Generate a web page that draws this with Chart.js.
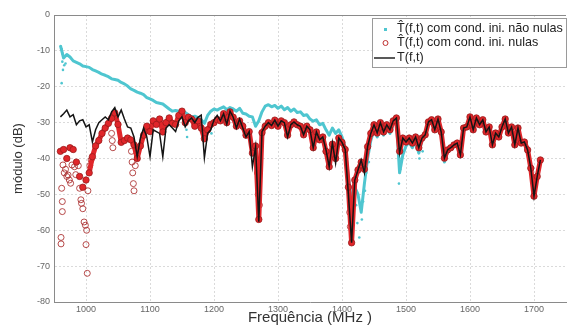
<!DOCTYPE html>
<html>
<head>
<meta charset="utf-8">
<script src="https://cdn.jsdelivr.net/npm/chart.js@4.4.1/dist/chart.umd.min.js"></script>
<style>
  html, body { margin: 0; padding: 0; background: #fff; }
</style>
</head>
<body>
<canvas id="chart" width="571" height="327"></canvas>
<script>
// frequency grid (MHz)
const freq = [
  960, 965, 970, 975, 980, 985, 990, 995, 1000, 1005,
  1010, 1015, 1020, 1025, 1030, 1035, 1040, 1045, 1050, 1055,
  1060, 1065, 1070, 1075, 1080, 1085, 1090, 1095, 1100, 1105,
  1110, 1115, 1120, 1125, 1130, 1135, 1140, 1145, 1150, 1155,
  1160, 1165, 1170, 1175, 1180, 1185, 1190, 1195, 1200, 1205,
  1210, 1215, 1220, 1225, 1230, 1235, 1240, 1245, 1250, 1255,
  1260, 1265, 1270, 1275, 1280, 1285, 1290, 1295, 1300, 1305,
  1310, 1315, 1320, 1325, 1330, 1335, 1340, 1345, 1350, 1355,
  1360, 1365, 1370, 1375, 1380, 1385, 1390, 1395, 1400, 1405,
  1410, 1415, 1420, 1425, 1430, 1435, 1440, 1445, 1450, 1455,
  1460, 1465, 1470, 1475, 1480, 1485, 1490, 1495, 1500, 1505,
  1510, 1515, 1520, 1525, 1530, 1535, 1540, 1545, 1550, 1555,
  1560, 1565, 1570, 1575, 1580, 1585, 1590, 1595, 1600, 1605,
  1610, 1615, 1620, 1625, 1630, 1635, 1640, 1645, 1650, 1655,
  1660, 1665, 1670, 1675, 1680, 1685, 1690, 1695, 1700, 1705,
  1710
];

// T(f,t) - black line
const tRef = [
  -28.4, -27.5, -26.5, -28.4, -27.8, -30.6, -29.5, -29.2, -31.2, -30.6,
  -35.4, -32, -30, -29.2, -28.4, -29.2, -27, -25.8, -28.4, -26.5,
  -29, -31.2, -31.5, -34, -39.5, -34.3, -31.5, -34, -39.5, -32,
  -32.5, -33, -39.5, -31.5, -30.6, -31.5, -32.5, -29.5, -28.4, -31.2,
  -29.5, -28.7, -30, -28.5, -27.9, -39.8, -33, -32, -29.2, -28,
  -29.5, -27.5, -30.5, -26.8, -28.5, -31.5, -29, -31.5, -34, -32.5,
  -42.3, -36.7, -57.6, -32.5, -31, -30, -30.8, -29.3, -31, -29.5,
  -30, -34, -30.6, -29.8, -30.6, -31, -33.4, -31, -32, -37,
  -32.6, -34.8, -34, -37.6, -42.3, -35.6, -41.3, -34.3, -35.5, -37.5,
  -50, -63.5, -46, -43.2, -40.4, -44, -36.7, -33, -30.6, -32.9,
  -30, -32.6, -30.6, -32, -29.5, -28.7, -38.5, -34.3, -35.4, -34.3,
  -35.7, -34, -37, -34.3, -33.4, -29.8, -29.2, -32, -29, -32.6,
  -39.9, -37.6, -37, -36.2, -35.7, -39, -31.5, -31.2, -28.4, -32,
  -28.7, -30.6, -29.2, -32.6, -31.2, -36.2, -32.9, -34, -31.2, -29,
  -32.9, -31.2, -36.2, -31.5, -35.7, -35.4, -37.6, -42.7, -50.5, -45,
  -40.4
];

// T^(f,t) com cond. ini. nulas - red circles
const tNulas = [
  -38, -37.5, -40, -37, -37.5, -41, -45, -48, -46, -44,
  -39.5, -36.5, -35, -33, -31.5, -30.2, -28.8, -27.3, -30.5, -35.5,
  -35, -34.3, -34.8, -36.2, -40, -36.5, -33.5, -31, -32.5, -29.5,
  -30.5, -29, -32.6, -30, -28.7, -30.2, -30.5, -28, -26.8, -30,
  -28.5, -29, -31, -29.5, -31.5, -34.5, -32, -30.5, -30, -29.2,
  -29.5, -27.5, -30, -27, -28.5, -31, -29.5, -31, -33.5, -32.5,
  -38.5, -36.5, -57, -32.8, -31, -30, -30.8, -29.3, -31, -29.5,
  -30, -33.5, -30.6, -29.8, -30.6, -31, -33.4, -31, -32, -37,
  -32.6, -34.8, -34, -38, -42.3, -36, -40, -34.3, -35.5, -37.5,
  -48, -63.5, -46, -43.2, -41, -43, -36.7, -33, -30.6, -32.9,
  -30, -32.6, -30.6, -32, -29.5, -28.7, -38, -34.3, -35.4, -34.3,
  -35.7, -34, -37, -34.3, -33.4, -29.8, -29.2, -32, -29, -32.6,
  -39.9, -37.6, -37, -36.2, -35.7, -39, -31.5, -31.2, -28.4, -32,
  -28.7, -30.6, -29.2, -32.6, -31.2, -36.2, -32.9, -34, -31.2, -29,
  -32.9, -31.2, -36.2, -31.5, -35.7, -35.4, -37.6, -42.7, -50.5, -45,
  -40.4
];
// scattered red circles (vertical runs)
const nulasExtraF = [962, 963, 963, 961, 961, 964, 966, 968, 970, 972, 974, 976, 978, 982, 984, 988, 990, 992, 993, 995,
  997, 999, 1000, 1001, 1002, 1003, 1006, 1008, 1040, 1041, 1042, 1071, 1072, 1073, 1074, 1075, 1077, 1268, 1269, 1271, 1412, 1413];
const nulasExtraV = [-48.3, -52, -54.8, -62, -63.8, -41.8, -44, -43, -45, -44.6, -46, -46.9, -41.8, -42.3, -44.5, -42, -48.3, -51.5, -52.5, -54,
  -57.7, -58.6, -64, -60, -72, -49, -42, -40.4, -33, -35, -37, -38, -41, -44, -47, -49, -42, -44, -50, -53, -55, -59];

// T^(f,t) com cond. ini. nao nulas - cyan dots
const tNaoNulas = [
  -8.5, -12, -11, -11.7, -12.8, -13.2, -13.6, -14.2, -14.4, -14.6,
  -15.2, -15.6, -16, -16.5, -16.8, -17.2, -17.8, -18, -18.2, -18.8,
  -19.2, -19.8, -20.6, -21, -21.5, -21.8, -22.2, -23, -23.4, -23.8,
  -24.4, -24.6, -24.8, -25.5, -26.2, -26.8, -26.6, -26.8, -26.6, -27.2,
  -27.8, -28.4, -28.2, -28.6, -29.2, -30.2, -28, -26.8, -26.2, -26.5,
  -26, -25.6, -26.4, -25.8, -26.2, -26.8, -26, -27.4, -27.6, -28.2,
  -28.4, -31, -29.5, -27, -25.4, -25, -25.6, -25.2, -26, -25.4,
  -26.4, -25.8, -26.8, -26.2, -27.2, -27, -28, -27.8, -29, -29.6,
  -29.2, -30.6, -30.2, -32, -33.5, -31.5, -33, -32, -34, -37,
  -45, -52, -48, -50, -55, -47, -40, -35, -32, -34,
  -31, -33.5, -31.5, -33, -30.5, -29.5, -44, -39, -36.5, -35.5,
  -37, -35, -38.5, -35, -34, -30.5, -29.8, -32.5, -29.5, -33.5,
  -41, -38, -37.5, -36.5, -36, -39.5, -32, -31.5, -28.8, -32.2,
  -29, -30.8, -29.5, -32.8, -31.5, -36.4, -33, -34.2, -31.4, -29.2,
  -33, -31.4, -36.4, -31.7, -35.8, -35.6, -37.8, -43, -50.5, -45,
  -40.5
];
const naoNulasExtraF = [962, 963, 963, 964, 962, 966, 968, 1157, 1158, 1196, 1422, 1424, 1427, 1431, 1433, 1436, 1438, 1442, 1489, 1491, 1493, 1521, 1526];
const naoNulasExtraV = [-9.5, -10.7, -13, -15.3, -19, -14, -13.5, -32, -34, -33, -53, -58, -62, -57, -52, -49, -44, -41, -47, -43, -40, -40, -38];

const xTicks = [1000, 1100, 1200, 1300, 1400, 1500, 1600, 1700];
const yTicks = [0, -10, -20, -30, -40, -50, -60, -70, -80];

const labels = [
  'T\u0302(f,t) com cond. ini. não nulas',
  'T\u0302(f,t) com cond. ini. nulas',
  'T(f,t)'
];

function pts(xs, ys) {
  return xs.map((f, i) => ({ x: f, y: ys[i] }));
}

const CYAN = '#4fc6d0';
const RED = '#e0262a';
const FONT = '"Liberation Sans", Arial, sans-serif';

// top edge of the axes box + legend box in the upper right
const boxPlugin = {
  id: 'boxPlugin',
  afterDraw(chart) {
    const { ctx, chartArea: a } = chart;
    ctx.save();
    ctx.strokeStyle = '#8a8a8a';
    ctx.lineWidth = 1;
    ctx.beginPath();
    ctx.moveTo(a.left, a.top + 0.5);
    ctx.lineTo(a.right, a.top + 0.5);
    ctx.stroke();

    const bx = 372.5, by = 18.5, bw = 194, bh = 49;
    ctx.fillStyle = '#fff';
    ctx.fillRect(bx, by, bw, bh);
    ctx.strokeStyle = '#9a9a9a';
    ctx.strokeRect(bx, by, bw, bh);

    ctx.font = '12.6px ' + FONT;
    ctx.textBaseline = 'middle';
    const rows = [29, 43, 58];
    ctx.fillStyle = CYAN;
    ctx.fillRect(384, rows[0] - 1, 3, 3);
    ctx.strokeStyle = '#c03030';
    ctx.beginPath();
    ctx.arc(385.5, rows[1], 2.5, 0, Math.PI * 2);
    ctx.stroke();
    ctx.strokeStyle = '#222';
    ctx.lineWidth = 1.5;
    ctx.beginPath();
    ctx.moveTo(374, rows[2]);
    ctx.lineTo(395, rows[2]);
    ctx.stroke();

    ctx.fillStyle = '#222';
    labels.forEach((t, i) => ctx.fillText(t, 397, rows[i]));
    ctx.restore();
  }
};

new Chart(document.getElementById('chart'), {
  type: 'scatter',
  data: {
    datasets: [
      {
        label: labels[0],
        data: pts(freq, tNaoNulas),
        showLine: true,
        borderColor: CYAN,
        borderWidth: 3,
        borderJoinStyle: 'round',
        pointRadius: 0.8,
        pointBackgroundColor: CYAN,
        pointBorderWidth: 0,
        order: 4
      },
      {
        label: labels[0] + ' extra',
        data: pts(naoNulasExtraF, naoNulasExtraV),
        pointRadius: 1.3,
        pointBackgroundColor: CYAN,
        pointBorderWidth: 0,
        order: 3
      },
      {
        label: labels[1],
        data: pts(freq, tNulas),
        showLine: true,
        borderColor: RED,
        borderWidth: 5,
        borderJoinStyle: 'round',
        borderCapStyle: 'round',
        segment: {
          // the first MHz are a scatter of loose circles, no band
          borderColor: c => (c.p0.parsed.x < 1005 ? 'rgba(0,0,0,0)' : RED)
        },
        pointStyle: 'circle',
        pointRadius: 3.2,
        pointBorderWidth: 0.8,
        pointBorderColor: '#9a1c1c',
        pointBackgroundColor: RED,
        order: 2
      },
      {
        label: labels[1] + ' extra',
        data: pts(nulasExtraF, nulasExtraV),
        pointStyle: 'circle',
        pointRadius: 3,
        pointBorderWidth: 1,
        pointBorderColor: 'rgba(170,45,45,0.85)',
        pointBackgroundColor: 'rgba(0,0,0,0)',
        order: 2
      },
      {
        label: labels[2],
        data: pts(freq, tRef),
        showLine: true,
        borderColor: '#141414',
        borderWidth: 1.5,
        pointRadius: 0,
        order: 1
      }
    ]
  },
  options: {
    responsive: false,
    animation: false,
    devicePixelRatio: 1,
    layout: { padding: { left: 0, right: 0, top: 15, bottom: 0 } },
    plugins: {
      legend: { display: false },
      tooltip: { enabled: false }
    },
    scales: {
      x: {
        type: 'linear',
        min: 950,
        max: 1750,
        afterBuildTicks: s => { s.ticks = xTicks.map(v => ({ value: v })); },
        afterFit: s => { s.height = 25; },
        ticks: {
          font: { size: 9, family: FONT }, color: '#666', padding: 2, maxRotation: 0, autoSkip: false,
          callback: v => String(v)
        },
        grid: { color: '#dadada', drawTicks: false },
        border: { display: true, color: '#8a8a8a', dash: [2, 2] },
        title: {
          display: true,
          text: 'Frequência (MHz )',
          font: { size: 15, family: FONT },
          color: '#333',
          padding: { top: 0, bottom: 0 }
        }
      },
      y: {
        min: -80,
        max: 0,
        afterBuildTicks: s => { s.ticks = yTicks.map(v => ({ value: v })); },
        afterFit: s => { s.width = 54; },
        ticks: { font: { size: 9, family: FONT }, color: '#666', padding: 4, callback: v => String(v) },
        grid: { color: '#dadada', drawTicks: false },
        border: { display: true, color: '#8a8a8a', dash: [2, 2] },
        title: {
          display: true,
          text: 'módulo (dB)',
          font: { size: 13, family: FONT },
          color: '#333',
          padding: { top: 11, bottom: 0 }
        }
      }
    }
  },
  plugins: [boxPlugin]
});
</script>
</body>
</html>
